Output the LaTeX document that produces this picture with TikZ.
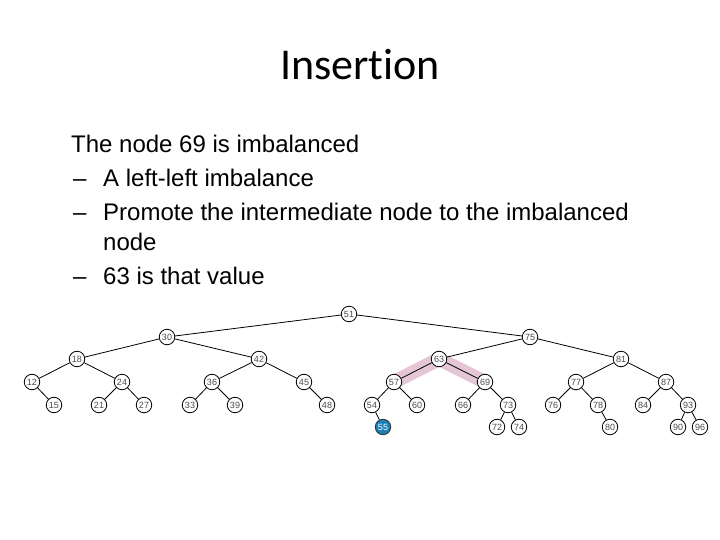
\documentclass[tikz,border=0pt]{standalone}
\usepackage{fontspec}
\setmainfont{Liberation Sans}
\newfontfamily\titlefont[Ligatures=NoCommon]{Carlito}
\usepackage{tikz}
\usetikzlibrary{positioning, backgrounds}
\definecolor{hlpink}{HTML}{E4C6D7}
\definecolor{newblue}{HTML}{1A80B8}
\tikzset{
    vertex/.style={circle, draw, fill=white, inner sep=0pt, minimum size=15.5pt, line width=0.8pt, font=\fontsize{9}{10}\selectfont, text=black!70},
    newvertex/.style={vertex, fill=newblue, text=white, draw=black!80},
    edge/.style={line width=0.8pt},
    bodytext/.style={anchor=base west, inner sep=0pt, font=\fontsize{24}{28}\selectfont}
}

\begin{document}
\begin{tikzpicture}[x=1pt, y=-1pt,
    hilite/.style={line width=14pt, hlpink, line join=round}
]
    \useasboundingbox (0,0) rectangle (720,540);

    % --- Title ---
    \node[inner sep=0pt, anchor=base, font=\titlefont\fontsize{44}{48}\selectfont] (title) at (360,80) {Insertion};

    % --- Bullet text ---
    \node[bodytext] (l1) at (71,153) {The node 69 is imbalanced};
    \node[bodytext] (d2) at (73,187) {--};
    \node[bodytext] (l2) at (103,187) {A left-left imbalance};
    \node[bodytext] (d3) at (73,221) {--};
    \node[bodytext] (l3) at (103,221) {Promote the intermediate node to the imbalanced};
    \node[bodytext] (l4) at (103,250) {node};
    \node[bodytext] (d5) at (73,284) {--};
    \node[bodytext] (l5) at (103,284) {63 is that value};

    % --- Tree vertices ---
    \foreach \n/\x/\y in {51/349/314, 30/167/337, 75/530/337,
        18/77/359, 42/259/359, 63/439/359, 81/621/359,
        12/32/382, 24/122/382, 36/212/382, 45/304/382,
        57/394/382, 69/485/382, 77/576/382, 87/666/382,
        15/54/405, 21/99/405, 27/144/405, 33/190/405, 39/235/405,
        48/327/405, 54/372/405, 60/417/405, 66/463/405, 73/508/405,
        76/553/405, 78/598/405, 84/643/405, 93/688/405,
        72/497/427, 74/519/427, 80/610/427, 90/678/427, 96/700/427}
        \node[vertex] (v\n) at (\x,\y) {\n};

    % newly inserted value
    \node[newvertex] (v55) at (383,427) {55};

    \begin{scope}[on background layer]
        % Imbalanced path
        \draw[hilite] (v57.center) -- (v63.center) -- (v69.center);

        % Tree edges
        \foreach \a/\b in {51/30, 51/75, 30/18, 30/42, 18/12, 18/24, 12/15,
            24/21, 24/27, 42/36, 42/45, 36/33, 36/39, 45/48, 75/63, 75/81,
            63/57, 63/69, 57/54, 57/60, 54/55, 69/66, 69/73, 73/72, 73/74,
            81/77, 81/87, 77/76, 77/78, 78/80, 87/84, 87/93, 93/90, 93/96}
            \draw[edge] (v\a) -- (v\b);
    \end{scope}

\end{tikzpicture}
\end{document}
